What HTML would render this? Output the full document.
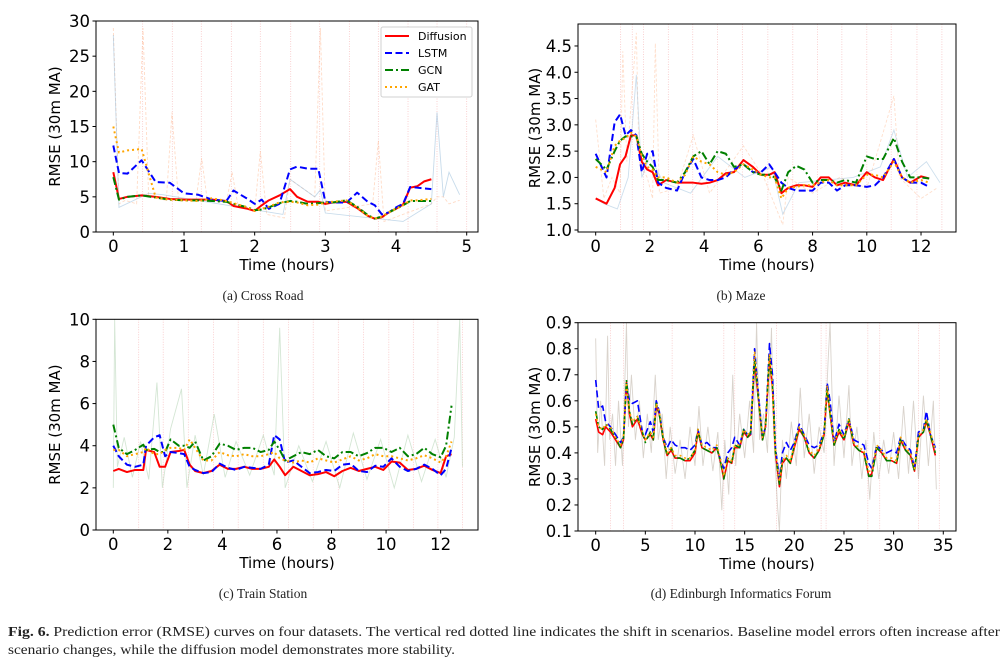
<!DOCTYPE html>
<html><head><meta charset="utf-8"><style>
body{margin:0;background:#fff;}
svg{display:block;font-family:"DejaVu Sans","Liberation Sans",sans-serif;}
.cap{font-family:"Liberation Serif",serif;font-size:13.5px;fill:#222;}
</style></head><body>
<svg id="fig" width="1002" height="663" viewBox="0 0 1002 663" xmlns="http://www.w3.org/2000/svg">
<text class="cap" x="263" y="300" text-anchor="middle">(a) Cross Road</text>
<text class="cap" x="741" y="300" text-anchor="middle">(b) Maze</text>
<text class="cap" x="263" y="598" text-anchor="middle">(c) Train Station</text>
<text class="cap" x="741" y="598" text-anchor="middle">(d) Edinburgh Informatics Forum</text>
<text class="cap" x="8" y="636" style="font-size:13.6px" textLength="992" lengthAdjust="spacingAndGlyphs"><tspan font-weight="bold">Fig. 6.</tspan>  Prediction error (RMSE) curves on four datasets. The vertical red dotted line indicates the shift in scenarios. Baseline model errors often increase after</text>
<text class="cap" x="8" y="654" style="font-size:13.6px" textLength="447" lengthAdjust="spacingAndGlyphs">scenario changes, while the diffusion model demonstrates more stability.</text>
</svg>
<script>
// ---------- Panel A: Cross Road ----------
const tA=[0,0.08,0.2,0.4,0.6,0.8,1.0,1.2,1.4,1.6,1.7,1.9,2.0,2.1,2.2,2.35,2.5,2.6,2.75,2.9,3.0,3.1,3.3,3.45,3.6,3.7,3.8,3.9,4.0,4.1,4.2,4.3,4.4,4.5];
const diffA=[8.5,4.7,5.0,5.2,5.0,4.7,4.6,4.6,4.6,4.4,3.7,3.3,3.0,3.8,4.5,5.2,6.1,5.0,4.3,4.3,4.0,4.2,4.3,3.4,2.3,1.9,2.1,2.8,3.3,3.9,6.3,6.5,7.2,7.5];
const lstmA=[12.3,8.4,8.3,10.2,7.1,7.0,5.5,5.3,4.6,4.4,5.9,4.7,4.0,4.6,3.3,4.0,8.9,9.3,9.0,9.0,4.3,4.2,4.2,5.6,4.3,3.8,2.5,2.8,3.5,4.0,6.4,6.3,6.2,6.1];
const gcnA=[7.8,4.6,5.0,5.2,4.9,4.6,4.5,4.5,4.4,4.3,4.0,3.5,3.1,3.2,3.5,4.1,4.4,4.3,4.0,4.1,4.2,4.2,4.5,3.6,2.4,1.9,2.2,2.8,3.3,3.8,4.4,4.4,4.4,4.4];
const gatA=[15,11.3,11.6,11.8,4.9,4.6,4.5,4.4,4.8,4.4,4.1,3.5,3.0,3.3,3.6,4.2,4.3,4.2,3.8,3.9,4.2,4.3,4.5,3.5,2.3,1.9,2.2,2.8,3.3,3.8,4.5,4.5,4.6,4.7];
const rawA_t=[0,0.08,0.17,0.33,0.42,0.5,0.75,0.83,0.92,1.17,1.25,1.33,1.6,1.68,1.76,2.0,2.08,2.17,2.42,2.5,2.85,2.93,3.0,3.67,3.75,3.83,4.5,4.58,4.67,4.75,4.9];
const rawA_v=[29,4,4.5,4,29,5,4.5,17,4.8,4.5,10.5,4.5,4.2,8.5,4,3,11.5,2.5,2,7.5,5,29,3,4,13,1.5,4,5,5,4,4.5];
const rawA2_t=[0,0.08,0.5,0.7,2.4,2.5,2.85,2.93,3.0,4.1,4.5,4.58,4.67,4.75,4.9];
const rawA2_v=[28,3.5,5.5,5.3,2.5,7.5,5,6,2.7,1.5,4,17,5,8.5,5.3];
const shiftsA=[0.415,0.835,1.245,1.67,2.08,2.51,2.92,3.34,3.75,4.17,4.58,5.0];
const xticksA=[0,1,2,3,4,5];
const yticksA=[0,5,10,15,20,25,30];

// ---------- Panel B: Maze ----------
const tB=[0,0.4,0.7,0.9,1.1,1.3,1.5,1.7,1.9,2.1,2.3,2.6,3.0,3.3,3.6,3.9,4.2,4.5,4.8,5.1,5.45,5.8,6.1,6.4,6.6,6.85,7.1,7.4,7.7,8.0,8.3,8.6,8.9,9.2,9.6,10.0,10.3,10.6,11.0,11.3,11.6,12.0,12.3];
const diffB=[1.6,1.5,1.8,2.25,2.4,2.8,2.8,2.3,2.15,2.1,1.85,1.95,1.9,1.9,1.9,1.88,1.9,1.95,2.08,2.1,2.33,2.2,2.05,2.05,2.1,1.7,1.8,1.85,1.85,1.82,2.0,2.0,1.85,1.9,1.85,2.1,2.0,1.95,2.35,2.0,1.9,2.02,1.98];
const lstmB=[2.45,2.0,3.05,3.2,2.8,2.9,2.8,2.1,2.45,2.5,1.9,1.8,1.75,2.1,2.35,2.0,1.95,1.95,2.0,2.15,2.25,2.1,2.1,2.25,2.1,1.9,1.8,1.75,1.75,1.75,1.9,1.9,1.75,1.85,1.85,1.82,1.85,2.0,2.35,2.0,1.9,1.9,1.82];
const gcnB=[2.35,2.15,2.5,2.7,2.78,2.78,2.78,2.45,2.3,2.2,1.95,1.95,1.9,2.1,2.4,2.5,2.25,2.5,2.45,2.2,2.25,2.1,2.05,2.05,2.0,1.75,2.1,2.22,2.15,1.9,1.95,1.95,1.9,1.95,1.9,2.4,2.35,2.35,2.75,2.3,2.0,2.0,1.98];
const gatB=[2.2,2.1,2.6,2.7,2.75,2.85,2.78,2.4,2.2,2.15,2.0,2.0,1.9,2.05,2.4,2.3,2.25,2.1,2.05,2.1,2.25,2.15,2.05,2.0,2.0,1.6,1.8,1.82,1.85,1.85,1.9,1.95,1.85,1.85,1.85,2.05,2.05,2.0,2.3,2.0,1.9,1.95,1.9];
const rawB_t=[0,0.3,0.6,0.9,1.0,1.15,1.5,1.6,1.9,2.1,2.2,2.35,3.0,3.6,4.2,5.45,6.2,6.9,7.1,8.0,9.0,10.0,11.0,11.2,12.0,12.6];
const rawB_v=[3.1,1.6,2.0,1.7,4.4,2.3,4.75,2.3,2.0,1.6,4.55,1.7,1.8,2.8,1.7,2.6,2.0,1.1,2.0,1.7,2.0,1.8,3.55,2.0,1.6,1.8];
const rawB2_t=[0,0.3,0.8,1.2,1.5,1.7,2.0,2.5,3.5,4.5,5.5,6.5,6.9,7.5,9.5,10.5,11.0,11.5,12.2,12.7];
const rawB2_v=[1.6,1.5,1.4,2.0,3.95,2.0,2.4,1.9,1.7,2.4,2.0,2.2,1.3,1.9,2.0,2.2,2.9,2.0,2.3,1.9];
const shiftsB=[0.92,1.35,1.76,2.68,3.58,4.49,5.41,6.35,7.27,8.18,9.08,10.0,10.9,11.85,12.77];
const xticksB=[0,2,4,6,8,10,12];
const yticksB=[1.0,1.5,2.0,2.5,3.0,3.5,4.0,4.5];

// ---------- Panel C: Train Station ----------
const tC=[0,0.2,0.5,0.8,1.1,1.2,1.5,1.7,1.9,2.1,2.4,2.6,2.8,3.0,3.3,3.6,3.9,4.2,4.5,4.8,5.1,5.4,5.7,5.9,6.1,6.3,6.6,6.9,7.2,7.5,7.8,8.1,8.4,8.7,9.0,9.3,9.6,9.9,10.2,10.5,10.8,11.1,11.4,11.7,12.0,12.2,12.4];
const diffC=[2.8,2.9,2.75,2.85,2.85,3.8,3.7,3.0,3.0,3.7,3.75,3.8,3.1,2.8,2.7,2.8,3.1,2.9,2.9,3.0,2.9,2.9,3.0,3.35,3.0,2.6,3.0,2.8,2.6,2.65,2.75,2.55,2.8,2.95,2.8,2.9,3.0,2.85,3.25,3.2,2.85,2.9,3.05,2.85,2.7,3.5,3.6];
const lstmC=[4.0,3.5,3.1,3.0,3.1,4.0,4.4,4.5,3.5,3.7,3.65,3.6,3.0,2.85,2.7,2.75,3.15,2.95,2.85,3.0,2.95,2.9,3.1,4.5,4.3,3.2,3.3,3.0,2.7,2.75,2.85,2.8,3.1,3.15,2.8,2.75,3.05,3.0,3.4,3.0,2.8,2.9,3.1,2.9,2.6,2.9,3.9];
const gcnC=[5.0,3.9,3.6,3.8,4.05,3.8,3.85,3.7,3.7,4.3,4.0,4.0,3.9,4.2,3.3,3.5,4.1,4.0,3.8,3.9,3.9,3.7,3.8,4.2,3.8,3.3,3.5,3.7,3.6,3.8,3.5,3.4,3.7,3.7,3.5,3.65,3.9,3.9,3.7,3.9,3.5,3.6,3.9,3.6,3.45,4.0,5.9];
const gatC=[3.8,3.8,3.5,3.6,3.7,3.9,3.6,3.6,3.8,3.9,3.9,3.8,4.3,3.9,3.3,3.3,3.7,3.55,3.5,3.6,3.5,3.5,3.6,3.7,3.4,3.3,3.2,3.3,3.2,3.4,3.3,3.2,3.35,3.5,3.3,3.4,3.6,3.5,3.5,3.4,3.3,3.4,3.55,3.4,3.2,3.5,4.2];
const rawC_t=[0,0.05,0.15,0.4,0.7,1.0,1.3,1.6,1.8,2.1,2.5,2.7,3.0,3.3,3.7,4.1,4.5,5.0,5.5,5.9,6.1,6.3,6.8,7.3,7.8,8.3,8.8,9.3,9.8,10.3,10.8,11.3,11.8,12.2,12.5,12.7,12.8];
const rawC_v=[2.0,10.0,3.0,4.4,2.5,4.2,2.4,7.0,2.0,4.8,6.7,2.0,4.5,2.6,5.5,2.5,4.2,2.6,4.5,2.6,9.6,2.0,4.0,2.3,4.2,2.0,4.6,2.4,4.3,2.0,4.5,2.3,4.3,2.5,4.4,10.0,3.0];
const shiftsC=[0.93,1.83,2.75,3.67,4.58,5.5,6.42,7.33,8.25,9.17,10.1,11.0,11.9,12.8];
const xticksC=[0,2,4,6,8,10,12];
const yticksC=[0,2,4,6,8,10];

// ---------- Panel D: Edinburgh Informatics Forum ----------
const tD=[0,0.3,0.7,1,1.5,2,2.5,2.8,3.1,3.4,3.7,4.2,4.7,5,5.5,5.8,6.1,6.4,6.8,7.2,7.6,8,8.5,9,9.5,10,10.3,10.7,11.2,11.7,12.2,12.6,12.9,13.3,13.7,14,14.5,14.9,15.3,15.6,16,16.4,16.8,17.1,17.5,17.8,18.1,18.5,18.8,19.2,19.6,20,20.5,21,21.5,22,22.5,23,23.3,23.6,24,24.5,25,25.5,26,26.5,27,27.5,27.8,28.3,28.8,29.3,29.8,30.3,30.7,31.2,31.7,32.1,32.5,33,33.3,33.7,34.2];
const diffD=[0.53,0.48,0.47,0.5,0.48,0.45,0.42,0.45,0.67,0.55,0.5,0.53,0.47,0.45,0.47,0.45,0.58,0.55,0.45,0.39,0.41,0.38,0.38,0.37,0.37,0.4,0.48,0.42,0.41,0.4,0.42,0.36,0.3,0.37,0.36,0.42,0.42,0.48,0.46,0.47,0.75,0.6,0.45,0.5,0.76,0.65,0.4,0.27,0.36,0.38,0.36,0.42,0.49,0.46,0.4,0.38,0.41,0.47,0.64,0.55,0.43,0.48,0.45,0.52,0.43,0.41,0.4,0.31,0.32,0.42,0.4,0.37,0.37,0.36,0.45,0.41,0.39,0.33,0.46,0.48,0.52,0.47,0.39];
const lstmD=[0.68,0.57,0.58,0.52,0.5,0.47,0.44,0.46,0.67,0.6,0.59,0.6,0.48,0.47,0.52,0.48,0.6,0.56,0.46,0.42,0.45,0.43,0.42,0.42,0.41,0.43,0.49,0.43,0.44,0.42,0.42,0.37,0.34,0.4,0.42,0.46,0.43,0.49,0.47,0.47,0.8,0.62,0.46,0.5,0.82,0.7,0.42,0.3,0.4,0.44,0.41,0.44,0.51,0.47,0.43,0.42,0.43,0.48,0.67,0.6,0.44,0.51,0.47,0.53,0.45,0.44,0.43,0.36,0.34,0.43,0.41,0.4,0.41,0.4,0.46,0.43,0.41,0.34,0.48,0.49,0.56,0.47,0.42];
const gcnD=[0.56,0.5,0.49,0.51,0.49,0.46,0.42,0.45,0.68,0.56,0.51,0.54,0.48,0.44,0.48,0.45,0.59,0.55,0.45,0.39,0.42,0.38,0.38,0.37,0.38,0.41,0.49,0.42,0.41,0.4,0.42,0.36,0.3,0.38,0.36,0.43,0.42,0.49,0.46,0.48,0.76,0.6,0.45,0.5,0.77,0.66,0.4,0.28,0.37,0.38,0.36,0.43,0.5,0.46,0.4,0.38,0.41,0.47,0.65,0.55,0.43,0.49,0.45,0.53,0.43,0.41,0.4,0.31,0.31,0.42,0.4,0.37,0.37,0.36,0.45,0.41,0.39,0.33,0.46,0.48,0.53,0.47,0.4];
const gatD=[0.55,0.5,0.49,0.51,0.5,0.46,0.43,0.46,0.67,0.56,0.52,0.54,0.48,0.45,0.48,0.46,0.59,0.56,0.46,0.4,0.42,0.39,0.39,0.38,0.38,0.41,0.49,0.43,0.42,0.41,0.43,0.37,0.31,0.38,0.37,0.43,0.43,0.49,0.47,0.48,0.79,0.61,0.46,0.51,0.78,0.66,0.41,0.29,0.37,0.39,0.37,0.43,0.5,0.47,0.41,0.39,0.42,0.48,0.66,0.56,0.44,0.49,0.46,0.53,0.44,0.42,0.41,0.33,0.33,0.43,0.41,0.38,0.38,0.37,0.46,0.42,0.4,0.34,0.47,0.49,0.53,0.48,0.41];
const rawD_t=[0,0.2,0.5,0.9,1.2,1.4,1.7,2.0,2.3,2.7,3.1,3.3,3.6,4.0,4.4,4.8,5.2,5.6,6.0,6.3,6.7,7.1,7.5,8.0,8.5,9.0,9.5,10.0,10.4,10.8,11.3,11.8,12.3,12.7,13.0,13.4,13.8,14.1,14.5,15.0,15.5,15.9,16.2,16.5,16.9,17.3,17.7,17.9,18.3,18.5,18.8,19.2,19.7,20.2,20.6,21.0,21.5,22.0,22.5,23.0,23.4,23.6,24.0,24.5,25.0,25.5,25.8,26.3,26.8,27.2,27.6,28.0,28.5,29.0,29.5,30.0,30.5,31.0,31.5,32.0,32.5,33.0,33.5,34.0,34.3];
const rawD_v=[0.84,0.4,0.6,0.35,0.85,0.45,0.55,0.35,0.6,0.35,0.9,0.5,0.7,0.45,0.6,0.38,0.55,0.4,0.7,0.45,0.55,0.3,0.5,0.32,0.45,0.3,0.5,0.35,0.58,0.35,0.5,0.33,0.48,0.18,0.45,0.24,0.7,0.35,0.55,0.38,0.6,0.4,0.9,0.45,0.55,0.4,0.88,0.5,0.2,0.1,0.45,0.3,0.52,0.35,0.65,0.38,0.55,0.32,0.5,0.4,0.75,0.9,0.35,0.62,0.38,0.66,0.35,0.5,0.3,0.45,0.22,0.48,0.3,0.45,0.32,0.48,0.3,0.58,0.32,0.6,0.3,0.62,0.35,0.6,0.26];
const shiftsD=[1.5,2.8,7.7,12.9,14.0,18.2,22.7,23.2,27.4,28.6,32.5,34.6];
const xticksD=[0,5,10,15,20,25,30,35];
const yticksD=[0.1,0.2,0.3,0.4,0.5,0.6,0.7,0.8,0.9];

const svg=document.getElementById('fig');
const NS='http://www.w3.org/2000/svg';
function el(tag,parent){const e=document.createElementNS(NS,tag);parent.appendChild(e);return e;}

const styles={
  diffusion:{c:'#ff0000',d:''},
  lstm:{c:'#0000ff',d:'7,3.5'},
  gcn:{c:'#008000',d:'8,3,2,3'},
  gat:{c:'#ffa500',d:'2,3'}
};

function drawPanel(p){
  const g=el('g',svg);
  
  
  const sx=v=>p.L+(v-p.xmin)/(p.xmax-p.xmin)*(p.R-p.L);
  const sy=v=>p.B-(v-p.ymin)/(p.ymax-p.ymin)*(p.B-p.T);
  p.shifts.forEach(s=>{
    const l=el('line',g);
    
    
    l.setAttribute('x1',sx(s));l.setAttribute('x2',sx(s));l.setAttribute('y1',p.T);l.setAttribute('y2',p.B);
    l.setAttribute('stroke','#f4a0a0');l.setAttribute('stroke-width','0.8');l.setAttribute('stroke-dasharray','1,1.5');l.setAttribute('opacity','0.6');
  });
  p.raws.forEach(r=>{
    const pl=el('polyline',g);
    
    
    pl.setAttribute('points',r.t.map((t,i)=>sx(t)+','+sy(Math.min(Math.max(r.v[i],p.ymin),p.ymax))).join(' '));
    pl.setAttribute('fill','none');pl.setAttribute('stroke',r.c);pl.setAttribute('stroke-width','0.9');pl.setAttribute('opacity',r.o);
    if(r.d)pl.setAttribute('stroke-dasharray',r.d);
  });
  p.series.forEach(s=>{
    const pl=el('polyline',g);
    
    
    pl.setAttribute('points',p.t.map((t,i)=>sx(t)+','+sy(s.v[i])).join(' '));
    pl.setAttribute('fill','none');pl.setAttribute('stroke',styles[s.name].c);
    pl.setAttribute('stroke-width',p.lw);pl.setAttribute('stroke-linejoin','round');
    if(styles[s.name].d)pl.setAttribute('stroke-dasharray',styles[s.name].d);
  });
  const fr=el('rect',g);
  
  
  fr.setAttribute('x',p.L);fr.setAttribute('y',p.T);fr.setAttribute('width',p.R-p.L);fr.setAttribute('height',p.B-p.T);
  fr.setAttribute('fill','none');fr.setAttribute('stroke','#000');fr.setAttribute('stroke-width','1');
  p.xticks.forEach(v=>{
    const x=sx(v);
    const tk=el('line',g);
    
    
    tk.setAttribute('x1',x);tk.setAttribute('x2',x);tk.setAttribute('y1',p.B);tk.setAttribute('y2',p.B+3.5);tk.setAttribute('stroke','#000');
    const tx=el('text',g);
    
    
    tx.setAttribute('x',x);tx.setAttribute('y',p.B+20);tx.setAttribute('text-anchor','middle');tx.setAttribute('font-size','16.5');
    tx.textContent=String(v);
  });
  p.yticks.forEach(v=>{
    const y=sy(v);
    const tk=el('line',g);
    
    
    tk.setAttribute('x1',p.L-3.5);tk.setAttribute('x2',p.L);tk.setAttribute('y1',y);tk.setAttribute('y2',y);tk.setAttribute('stroke','#000');
    const tx=el('text',g);
    
    
    tx.setAttribute('x',p.L-6);tx.setAttribute('y',y+6);tx.setAttribute('text-anchor','end');tx.setAttribute('font-size','16.5');
    tx.textContent=p.fmt(v);
  });
  const xt=el('text',g);
  
  
  xt.setAttribute('x',(p.L+p.R)/2);xt.setAttribute('y',p.B+38);xt.setAttribute('text-anchor','middle');xt.setAttribute('font-size','15');
  xt.textContent='Time (hours)';
  const yt=el('text',g);
  
  
  const cy=(p.T+p.B)/2;
  yt.setAttribute('transform','translate('+p.yx+','+cy+') rotate(-90)');
  yt.setAttribute('text-anchor','middle');yt.setAttribute('font-size','15');
  yt.textContent='RMSE (30m MA)';
}

drawPanel({id:'a',L:96,R:478,T:21,B:232,xmin:-0.245,xmax:5.16,ymin:0,ymax:30,yx:60,lw:2,
  t:tA,shifts:shiftsA,xticks:xticksA,yticks:yticksA,fmt:v=>String(v),
  raws:[{t:rawA_t,v:rawA_v,c:'#ffb080',o:0.45,d:'3,2'},{t:rawA2_t,v:rawA2_v,c:'#90b8d8',o:0.5}],
  series:[{name:'diffusion',v:diffA},{name:'lstm',v:lstmA},{name:'gcn',v:gcnA},{name:'gat',v:gatA}]});
drawPanel({id:'b',L:578,R:956,T:24,B:232,xmin:-0.652,xmax:13.29,ymin:0.962,ymax:4.918,yx:540,lw:2,
  t:tB,shifts:shiftsB,xticks:xticksB,yticks:yticksB,fmt:v=>v.toFixed(1),
  raws:[{t:rawB_t,v:rawB_v,c:'#ffb080',o:0.4,d:'3,2'},{t:rawB2_t,v:rawB2_v,c:'#90b8d8',o:0.45}],
  series:[{name:'diffusion',v:diffB},{name:'lstm',v:lstmB},{name:'gcn',v:gcnB},{name:'gat',v:gatB}]});
drawPanel({id:'c',L:96,R:478,T:319.3,B:530,xmin:-0.634,xmax:13.37,ymin:0,ymax:10,yx:60,lw:2,
  t:tC,shifts:shiftsC,xticks:xticksC,yticks:yticksC,fmt:v=>String(v),
  raws:[{t:rawC_t,v:rawC_v,c:'#a0c8a0',o:0.45}],
  series:[{name:'diffusion',v:diffC},{name:'lstm',v:lstmC},{name:'gcn',v:gcnC},{name:'gat',v:gatC}]});
drawPanel({id:'d',L:578,R:956,T:322.7,B:531,xmin:-1.78,xmax:36.28,ymin:0.1,ymax:0.9,yx:540,lw:1.6,
  t:tD,shifts:shiftsD,xticks:xticksD,yticks:yticksD,fmt:v=>v.toFixed(1),
  raws:[{t:rawD_t,v:rawD_v,c:'#a09080',o:0.4}],
  series:[{name:'diffusion',v:diffD},{name:'lstm',v:lstmD},{name:'gcn',v:gcnD},{name:'gat',v:gatD}]});

const lg=el('g',svg);


const lb=el('rect',lg);


lb.setAttribute('x',381);lb.setAttribute('y',27);lb.setAttribute('width',91);lb.setAttribute('height',70);lb.setAttribute('rx',2);
lb.setAttribute('fill','#fff');lb.setAttribute('stroke','#d0d0d0');
const legendNames=['Diffusion','LSTM','GCN','GAT'];
const legendKeys=['diffusion','lstm','gcn','gat'];
legendNames.forEach((n,i)=>{
  const y=36+i*17;
  const ln=el('line',lg);
  
  
  ln.setAttribute('x1',385);ln.setAttribute('x2',409);ln.setAttribute('y1',y);ln.setAttribute('y2',y);
  ln.setAttribute('stroke',styles[legendKeys[i]].c);ln.setAttribute('stroke-width',2);
  if(styles[legendKeys[i]].d)ln.setAttribute('stroke-dasharray',styles[legendKeys[i]].d);
  const tx=el('text',lg);
  
  
  tx.setAttribute('x',418);tx.setAttribute('y',y+4);tx.setAttribute('font-size','11');
  tx.textContent=n;
});
</script>
</body></html>
